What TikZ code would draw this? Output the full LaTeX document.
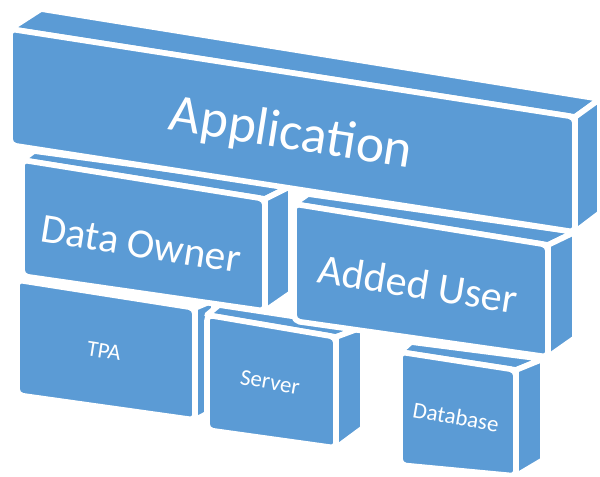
\documentclass[tikz,border=0pt]{standalone}
\usepackage{fontspec}
\setmainfont{Carlito}
\definecolor{brickblue}{HTML}{5B9BD5}

\begin{document}
\begin{tikzpicture}[x=0.025cm,y=-0.025cm,
		face/.style={fill=brickblue,draw=white,line width=4pt,line join=round},
		front/.style={face,rounded corners=4pt},
		lbl/.style={text=white,inner sep=0pt}]
			\useasboundingbox (0,0) rectangle (600,477);
		
			\path[face] (195,308) -- (214,300) -- (214,410) -- (195,420) -- cycle;
			\path[front] (17,280) -- (195,308) -- (195,420) -- (17,395) -- cycle;
		
			\path[face] (207,315) -- (219,305) -- (363,327) -- (336,337) -- cycle;
			\path[face] (336,337) -- (363,327) -- (363,428) -- (336,448) -- cycle;
			\path[front] (207,315) -- (336,337) -- (336,448) -- (207,430) -- cycle;
		
			\path[face] (400,352) -- (411,342) -- (543,359) -- (516,370) -- cycle;
			\path[face] (516,370) -- (543,359) -- (543,460) -- (516,476) -- cycle;
			\path[front] (400,352) -- (516,370) -- (516,476) -- (400,465) -- cycle;
		
			\path[face] (22,160) -- (34,151) -- (291,186) -- (265,199) -- cycle;
			\path[face] (265,199) -- (291,186) -- (291,293) -- (265,311) -- cycle;
			\path[front] (22,160) -- (265,199) -- (265,311) -- (22,276) -- cycle;
		
			\path[face] (294,204) -- (308,194) -- (575,232) -- (548,245) -- cycle;
			\path[face] (548,245) -- (575,232) -- (575,338) -- (548,357) -- cycle;
			\path[front] (294,204) -- (548,245) -- (548,357) -- (294,321) -- cycle;
		
			\path[face] (10,29) -- (41,9) -- (600,99) -- (575,117) -- cycle;
			\path[face] (575,117) -- (600,99) -- (600,213) -- (575,232) -- cycle;
			\path[front] (10,29) -- (575,117) -- (575,232) -- (10,145) -- cycle;
		
			\node[lbl,rotate=-9,font=\fontsize{38}{40}\selectfont] (app) at (291,135) {Application};
			\node[lbl,rotate=-9,font=\fontsize{29.5}{31}\selectfont] (owner) at (141,244) {Data Owner};
			\node[lbl,rotate=-9,font=\fontsize{30}{32}\selectfont] (user) at (418,284) {Added User};
			\node[lbl,rotate=-9,font=\fontsize{16}{18}\selectfont] (tpa) at (104,351) {TPA};
			\node[lbl,rotate=-10,font=\fontsize{16.3}{18}\selectfont] (server) at (270,382) {Server};
			\node[lbl,rotate=-10,font=\fontsize{16.3}{18}\selectfont] (db) at (456,417) {Database};
		\end{tikzpicture}
\end{document}
